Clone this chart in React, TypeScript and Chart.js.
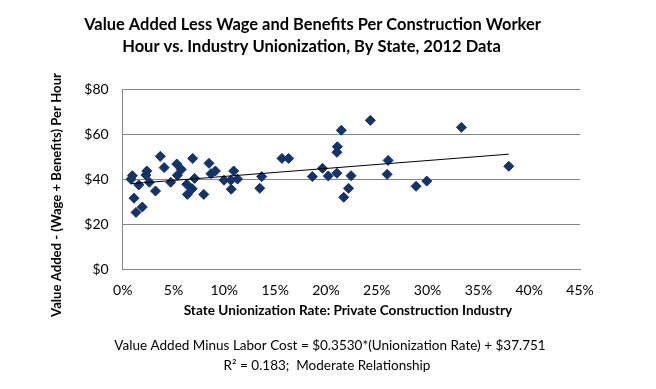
import React, { useEffect, useRef } from 'react';
import { Chart, registerables } from 'chart.js';

Chart.register(...registerables);

// Union rate (%) per state
const unionRate = [
  0.95, 0.82, 1.58, 1.11, 1.31, 1.93, 2.37, 2.28, 2.62, 3.23,
  3.7, 4.08, 4.72, 5.32, 5.76, 5.38, 6.3, 6.36, 6.84, 6.89,
  7.08, 7.98, 8.49, 8.69, 9.12, 9.97, 10.64, 10.68, 10.92, 11.3,
  13.49, 13.68, 15.67, 16.33, 18.66, 19.66, 20.23, 21.08, 21.08, 21.12,
  21.51, 22.47, 22.22, 21.75, 24.37, 26.12, 26.02, 28.87, 29.92, 33.33,
  37.99,
];
// Value added less wages and benefits ($ per hour)
const valueAdded = [
  41.6, 40.0, 37.5, 31.6, 25.3, 27.7, 43.7, 41.9, 38.7, 34.8,
  50.2, 45.2, 38.7, 46.8, 44.4, 41.8, 37.8, 33.3, 35.8, 49.3,
  40.4, 33.3, 47.1, 42.5, 43.7, 39.6, 39.6, 35.6, 43.7, 40.1,
  36.0, 41.2, 49.3, 49.3, 41.2, 44.9, 41.5, 42.7, 52.0, 54.5,
  61.8, 41.6, 36.0, 32.0, 66.2, 48.4, 42.2, 36.9, 39.2, 63.1,
  45.8,
];
// Trend line coefficients as printed on the chart
const trendSlope = 0.353;
const trendIntercept = 37.751;

const xTicks = [0, 5, 10, 15, 20, 25, 30, 35, 40, 45];
const yTicks = [0, 20, 40, 60, 80];

const titleLines = [
  'Value Added Less Wage and Benefits Per Construction Worker',
  'Hour vs. Industry Unionization, By State, 2012 Data',
];
const yAxisTitle = 'Value Added - (Wage + Benefits) Per Hour';
const xAxisTitle = 'State Unionization Rate: Private Construction Industry';
const noteLines = [
  'Value Added Minus Labor Cost = $0.3530*(Unionization Rate) + $37.751',
  'R² = 0.183;  Moderate Relationship',
];

const FONT = 'Lato';

// draw centered text with its font size chosen to fill a given width
function fitText(ctx: any, text: string, cx: number, cy: number, width: number, weight: string, maxSize: number) {
  ctx.font = `${weight} 20px ${FONT}`;
  const w = ctx.measureText(text).width;
  const size = Math.min(maxSize, (20 * width) / w);
  ctx.font = `${weight} ${size}px ${FONT}`;
  ctx.fillText(text, cx, cy);
}

const textPlugin = {
  id: 'chartTexts',
  beforeDraw(chart: any) {
    const ctx = chart.ctx;
    ctx.save();
    ctx.fillStyle = '#ffffff';
    ctx.fillRect(0, 0, chart.width, chart.height);
    ctx.restore();
  },
  afterDraw(chart: any) {
    const ctx = chart.ctx;
    ctx.save();
    ctx.fillStyle = '#000000';
    ctx.textAlign = 'center';
    ctx.textBaseline = 'middle';
    fitText(ctx, titleLines[0], 312.5, 25, 457, 'bold', 18);
    fitText(ctx, titleLines[1], 311.5, 46.5, 379, 'bold', 18);

    fitText(ctx, xAxisTitle, 348, 311, 329, 'bold', 16);

    fitText(ctx, noteLines[0], 330, 346, 432, 'normal', 16);
    fitText(ctx, noteLines[1], 327, 366, 207, 'normal', 16);

    ctx.save();
    ctx.translate(57, 195);
    ctx.rotate(-Math.PI / 2);
    fitText(ctx, yAxisTitle, 0, 0, 244, 'bold', 16);
    ctx.restore();
    ctx.restore();
  },
};

export default function App() {
  const ref = useRef<HTMLCanvasElement | null>(null);
  useEffect(() => {
    if (!ref.current) return;
    const points = unionRate.map((x, i) => ({ x, y: valueAdded[i] }));
    const minX = Math.min(...unionRate);
    const maxX = Math.max(...unionRate);
    const trend = [
      { x: minX, y: trendIntercept + trendSlope * minX },
      { x: maxX, y: trendIntercept + trendSlope * maxX },
    ];
    const chart = new Chart(ref.current, {
      type: 'scatter',
      data: {
        datasets: [
          {
            type: 'line',
            data: trend,
            borderColor: '#000000',
            borderWidth: 1,
            pointRadius: 0,
            fill: false,
            order: 0,
          } as any,
          {
            type: 'scatter',
            data: points,
            pointStyle: 'rectRot',
            pointRadius: 5,
            backgroundColor: '#12336B',
            borderColor: '#12336B',
            borderWidth: 1,
            order: 1,
          } as any,
        ],
      },
      options: {
        responsive: false,
        animation: false,
        devicePixelRatio: 1,
        layout: { padding: { left: 22.7, right: 76, top: 89.3, bottom: 79.7 } },
        plugins: {
          legend: { display: false },
          tooltip: { enabled: false },
          title: { display: false },
        },
        scales: {
          x: {
            type: 'linear',
            min: 0,
            max: 45,
            afterFit: (s: any) => { s.height = 40; },
            afterBuildTicks: (s: any) => { s.ticks = xTicks.map((v) => ({ value: v })); },
            ticks: {
              callback: (v: any) => v + '%',
              color: '#000000',
              font: { family: FONT, size: 14 },
              padding: 13,
              maxRotation: 0,
              autoSkip: false,
            },
            grid: { display: false, drawTicks: false },
            border: { display: true, color: '#868686', width: 1 },
          },
          y: {
            min: 0,
            max: 80,
            afterFit: (s: any) => { s.width = 100; },
            afterBuildTicks: (s: any) => { s.ticks = yTicks.map((v) => ({ value: v })); },
            ticks: {
              callback: (v: any) => '$' + v,
              color: '#000000',
              font: { family: FONT, size: 14 },
              padding: 14,
            },
            grid: { color: '#868686', drawTicks: false },
            border: { display: true, color: '#868686', width: 1 },
          },
        },
      } as any,
      plugins: [textPlugin],
    });
    return () => chart.destroy();
  }, []);
  return (
    <div style={{ position: 'fixed', left: 0, top: 0, width: 656, height: 389, background: '#fff' }}>
      <canvas ref={ref} width={656} height={389} style={{ display: 'block' }} />
    </div>
  );
}
